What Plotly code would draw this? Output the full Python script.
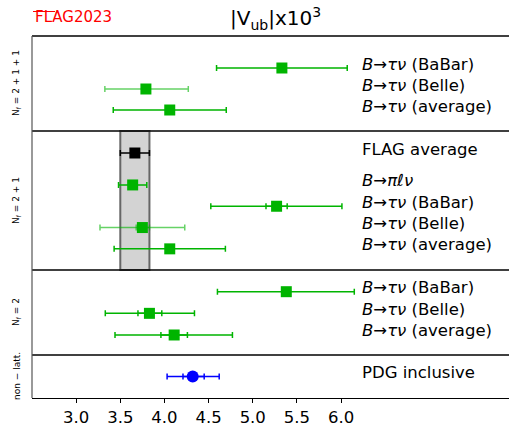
import plotly.graph_objects as go

# ---------------- data ----------------
# panel 1 : Nf = 2+1+1
p1_labels = ["<i>B</i>→<i>τν</i> (BaBar)", "<i>B</i>→<i>τν</i> (Belle)", "<i>B</i>→<i>τν</i> (average)"]
p1_val = [5.33, 3.79, 4.06]
p1_em = [0.74, 0.465, 0.64]
p1_ep = [0.74, 0.48, 0.64]
p1_light = [False, True, False]

# panel 2 : Nf = 2+1
flag_label = "FLAG average"
flag_val = 3.665
flag_err = 0.165
p2_labels = ["<i>B</i>→<i>πℓν</i>", "<i>B</i>→<i>τν</i> (BaBar)", "<i>B</i>→<i>τν</i> (Belle)", "<i>B</i>→<i>τν</i> (average)"]
p2_val = [3.64, 5.27, 3.75, 4.06]
p2_em = [0.16, 0.745, 0.48, 0.63]
p2_ep = [0.16, 0.74, 0.48, 0.63]
p2_sm = [None, 0.12, 0.07, None]
p2_sp = [None, 0.12, 0.08, None]
p2_light = [False, False, True, False]

# panel 3 : Nf = 2
p3_labels = ["<i>B</i>→<i>τν</i> (BaBar)", "<i>B</i>→<i>τν</i> (Belle)", "<i>B</i>→<i>τν</i> (average)"]
p3_val = [5.38, 3.83, 4.11]
p3_em = [0.78, 0.50, 0.67]
p3_ep = [0.77, 0.51, 0.66]
p3_sm = [None, 0.13, 0.15]
p3_sp = [None, 0.14, 0.15]

# panel 4 : non-lattice
p4_label = "PDG inclusive"
p4_val = 4.32
p4_em = 0.29
p4_ep = 0.30
p4_sm = 0.11
p4_sp = 0.13

panel_titles = ["N<sub>f</sub> = 2 + 1 + 1", "N<sub>f</sub> = 2 + 1", "N<sub>f</sub> = 2", "non − latt."]
xtick_vals = [3.0, 3.5, 4.0, 4.5, 5.0, 5.5, 6.0]

# ---------------- styling ----------------
W, H = 509, 430
ML, MR, MT, MB = 32, 0, 36, 32
PH = H - MT - MB
PW = W - ML - MR
bounds_px = [36, 131, 270, 355, 398]
def pap(ypx):
    return (H - MB - ypx) / PH
def papx(xpx):
    return (xpx - ML) / PW
domains = [[pap(bounds_px[i + 1]), pap(bounds_px[i])] for i in range(4)]
yranges = [[3.0, -1.524], [5.493, -1.033], [2.924, -1.002], [1.0, -1.0]]

GREEN = "#00b400"
LIGHT = "rgba(0,180,0,0.6)"
FONT = "DejaVu Sans"
LABEL_X = 6.21
LABEL_SIZE = 16.5

fig = go.Figure()

def add_point(yaxis, y, v, em, ep, sm=None, sp=None, color=GREEN, barcolor=GREEN,
              symbol="square", size=11):
    fig.add_trace(go.Scatter(
        x=[v], y=[y], yaxis=yaxis, mode="markers",
        marker=dict(size=size, color="rgba(0,0,0,0)", line=dict(width=0)),
        error_x=dict(type="data", symmetric=False, array=[ep], arrayminus=[em],
                     color=barcolor, thickness=1.5, width=3),
        showlegend=False, hoverinfo="skip"))
    if sm is not None:
        fig.add_trace(go.Scatter(
            x=[v], y=[y], yaxis=yaxis, mode="markers",
            marker=dict(size=size, color="rgba(0,0,0,0)", line=dict(width=0)),
            error_x=dict(type="data", symmetric=False, array=[sp], arrayminus=[sm],
                         color=barcolor, thickness=1.5, width=3),
            showlegend=False, hoverinfo="skip"))
    fig.add_trace(go.Scatter(
        x=[v], y=[y], yaxis=yaxis, mode="markers",
        marker=dict(size=size, color=color, symbol=symbol, line=dict(width=0)),
        showlegend=False, hoverinfo="skip"))

annotations = []
def add_label(yref, y, text):
    annotations.append(dict(x=LABEL_X, y=y, xref="x", yref=yref, text=text, showarrow=False,
                            xanchor="left", yanchor="middle", yshift=4,
                            font=dict(family=FONT, size=LABEL_SIZE, color="black")))

# panel 1
for i, lab in enumerate(p1_labels):
    add_point("y", i, p1_val[i], p1_em[i], p1_ep[i],
              barcolor=LIGHT if p1_light[i] else GREEN)
    add_label("y", i, lab)

# panel 2
add_point("y2", 0, flag_val, flag_err, flag_err, color="black", barcolor="black")
add_label("y2", 0, flag_label)
GAP = 1.5
for i, lab in enumerate(p2_labels):
    add_point("y2", GAP + i, p2_val[i], p2_em[i], p2_ep[i], p2_sm[i], p2_sp[i],
              barcolor=LIGHT if p2_light[i] else GREEN)
    add_label("y2", GAP + i, lab)

# panel 3
for i, lab in enumerate(p3_labels):
    add_point("y3", i, p3_val[i], p3_em[i], p3_ep[i], p3_sm[i], p3_sp[i])
    add_label("y3", i, lab)

# panel 4
add_point("y4", 0, p4_val, p4_em, p4_ep, p4_sm, p4_sp, color="#0000ff", barcolor="#0000ff",
          symbol="circle", size=12)
add_label("y4", 0, p4_label)

shapes = []
# FLAG band
shapes.append(dict(type="rect", xref="x", yref="y2 domain", x0=flag_val - flag_err, x1=flag_val + flag_err,
                   y0=0, y1=1, fillcolor="#d3d3d3", line=dict(color="#666666", width=2), layer="below"))
# separators
for b in bounds_px[:-1]:
    shapes.append(dict(type="line", xref="paper", yref="paper", x0=0, x1=1, y0=pap(b), y1=pap(b),
                       line=dict(color="black", width=1.6)))
# left spine
shapes.append(dict(type="line", xref="paper", yref="paper", x0=0, x1=0, y0=0, y1=1,
                   line=dict(color="#555555", width=1.2)))
# FLAG logo overline
shapes.append(dict(type="line", xref="paper", yref="paper",
                   x0=papx(33), x1=papx(55), y0=pap(11.5), y1=pap(11.5),
                   line=dict(color="red", width=1)))

for i, t in enumerate(panel_titles):
    annotations.append(dict(x=papx(16.5), y=sum(domains[i]) / 2, xref="paper", yref="paper",
                            text=t, textangle=-90, showarrow=False, xanchor="center", yanchor="middle",
                            font=dict(family=FONT, size=9, color="black")))

annotations.append(dict(x=papx(275), y=pap(18), xref="paper", yref="paper",
                        text="|V<sub>ub</sub>|x10<sup>3</sup>", showarrow=False,
                        xanchor="center", yanchor="middle", font=dict(family=FONT, size=20, color="black")))
annotations.append(dict(x=papx(33), y=pap(17), xref="paper", yref="paper",
                        text="FLAG2023", showarrow=False, xanchor="left", yanchor="middle",
                        font=dict(family=FONT, size=15, color="red")))

layout = dict(
    width=W, height=H, margin=dict(l=ML, r=MR, t=MT, b=MB, autoexpand=False),
    paper_bgcolor="white", plot_bgcolor="white",
    xaxis=dict(range=[2.5, 2.5 + PW / 88.3], anchor="y4", tickvals=xtick_vals,
               ticktext=[f"{v:.1f}" for v in xtick_vals], ticks="outside", ticklen=4,
               tickcolor="black", showline=True, linecolor="black", linewidth=1,
               showgrid=False, zeroline=False, tickfont=dict(family=FONT, size=16.5, color="black")),
    shapes=shapes, annotations=annotations,
)
names = ["yaxis", "yaxis2", "yaxis3", "yaxis4"]
for i, n in enumerate(names):
    layout[n] = dict(domain=domains[i], range=yranges[i], anchor="x", showticklabels=False,
                     showgrid=False, zeroline=False, showline=False, ticks="", fixedrange=True)
fig.update_layout(**layout)
fig.write_html("out.html", config=dict(displayModeBar=False),
               post_script="document.body.style.margin='0';document.body.style.overflow='hidden';")
